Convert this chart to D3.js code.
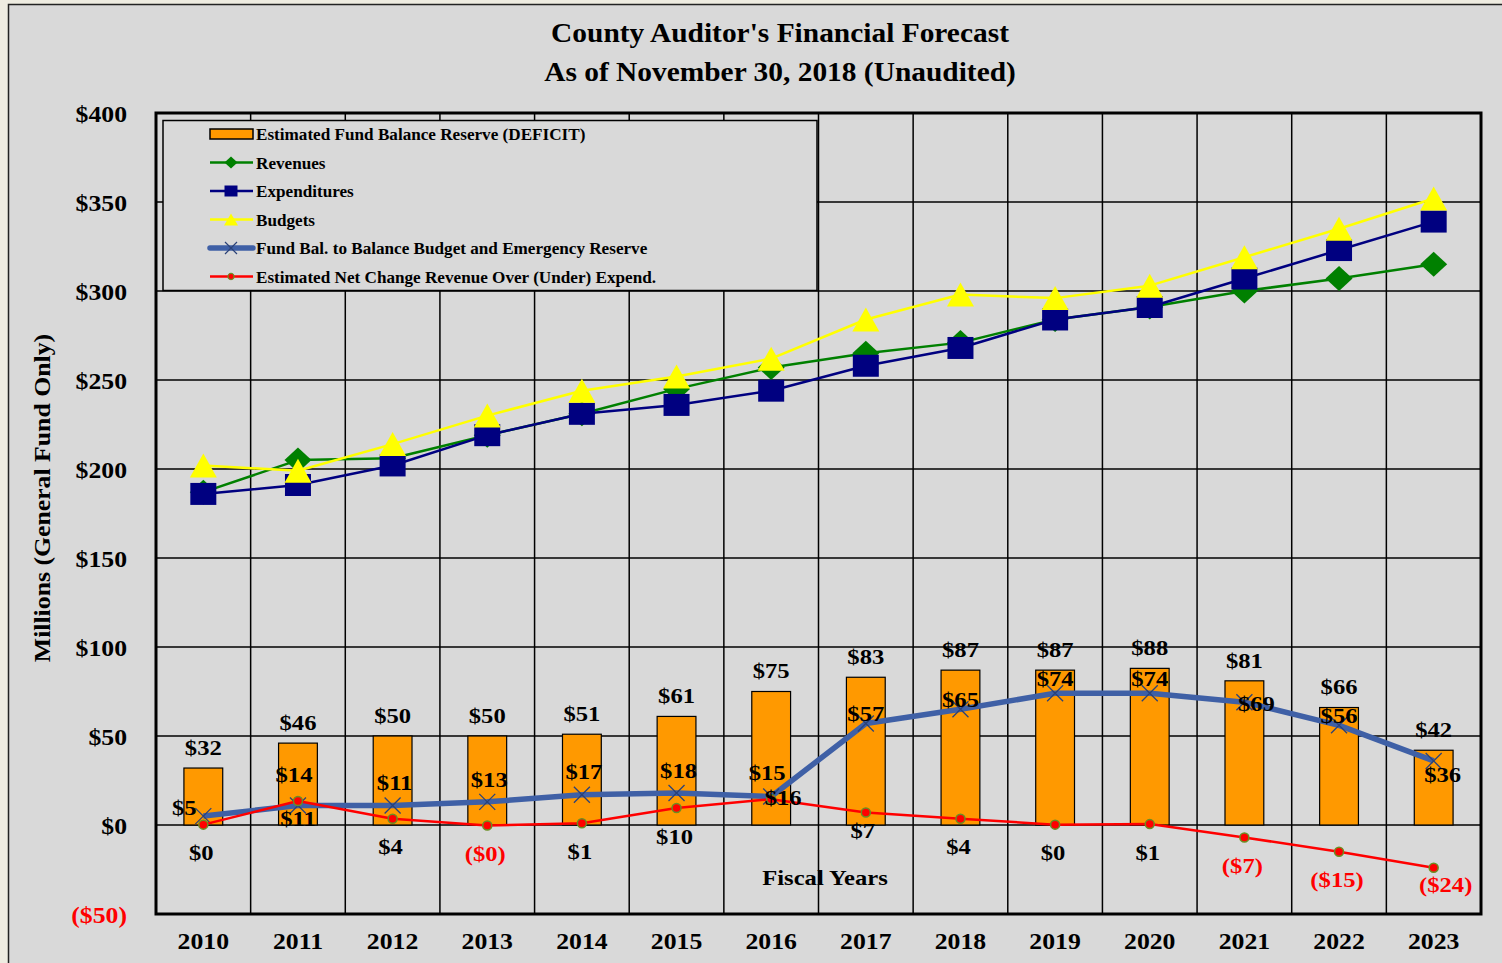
<!DOCTYPE html>
<html>
<head>
<meta charset="utf-8">
<script src="https://cdn.jsdelivr.net/npm/d3@7/dist/d3.min.js"></script>
<style>
  html, body { margin: 0; padding: 0; background: #eeece1; overflow: hidden; }
  svg { display: block; }
  text { font-family: "Liberation Serif", "Times New Roman", serif; font-weight: bold; }
</style>
</head>
<body>
<svg id="chart" width="1502" height="963"></svg>
<script>
// ---------------- DATA ----------------
const years = ["2010","2011","2012","2013","2014","2015","2016","2017","2018","2019","2020","2021","2022","2023"];
const fundBalanceReserve = [32, 46, 50, 50, 51, 61, 75, 83, 87, 87, 88, 81, 66, 42];
const revenues     = [187, 205, 206, 219, 231, 245, 257, 265, 271, 284, 291, 300, 307, 315];
const expenditures = [186, 191, 202, 219, 231, 236, 244, 258, 268, 284, 291, 307, 323, 339];
const budgets      = [202, 199, 214, 230, 244, 252, 262, 284, 298, 296, 303, 319, 335, 352];
const fundBalToBudget = [5, 11, 11, 13, 17, 18, 16, 57, 65, 74, 74, 69, 56, 36];
const netChange    = [0.2, 13.5, 3.5, -0.3, 1, 9.5, 14.5, 7, 3.5, 0.2, 0.5, -7, -15, -24];
const yTicks = [-50, 0, 50, 100, 150, 200, 250, 300, 350, 400];
// label placement categories (resolved to offsets in code)
const fundLabelPlace = ["left","below","above","above","above","above","right","near","near","mid","mid","right","near","belowright"];
const netLabelPlace  = ["below","above","below","below","below","below","above","belowNear","below","below","below","below","below","belowright"];
const legendNames = ["Estimated Fund Balance Reserve (DEFICIT)","Revenues","Expenditures","Budgets",
  "Fund Bal. to Balance Budget and Emergency Reserve","Estimated Net Change Revenue Over (Under) Expend."];

// ---------------- SETUP ----------------
const SX = 1.12;
const svg = d3.select("#chart");
const M = {left: 156, right: 1481, top: 113, bottom: 914};
const x = d3.scaleBand().domain(years).range([M.left, M.right]).padding(0);
const y = d3.scaleLinear().domain([-50, 400]).range([M.bottom, M.top]);
const cx = d => x(d) + x.bandwidth() / 2;

function txt(parent, px, py, s, size, opt = {}) {
  const t = parent.append("text")
    .attr("transform", `translate(${px},${py}) rotate(${opt.rotate || 0}) scale(${opt.sx || SX},1)`)
    .attr("text-anchor", opt.anchor || "middle")
    .attr("dy", "0.35em")
    .style("font-size", size + "px")
    .attr("fill", opt.fill || "#000")
    .text(s);
  return t;
}

// outer frame
svg.append("rect").attr("x", 8.5).attr("y", 4.5).attr("width", 1600).attr("height", 1000)
  .attr("fill", "#d9d9d9").attr("stroke", "#222").attr("stroke-width", 1.5);

// title
txt(svg, 780, 32, "County Auditor's Financial Forecast", 27.5, {sx: 1.07});
txt(svg, 780, 71, "As of November 30, 2018 (Unaudited)", 27.5, {sx: 1.07});

// y axis title
txt(svg, 42, 498, "Millions (General Fund Only)", 23, {rotate: -90});

// gridlines
const grid = svg.append("g");
grid.selectAll("line.h").data(yTicks).join("line")
  .attr("x1", M.left).attr("x2", M.right).attr("y1", d => y(d)).attr("y2", d => y(d))
  .attr("stroke", "#000").attr("stroke-width", 1.5);
grid.selectAll("line.v").data(years.slice(1)).join("line")
  .attr("x1", d => x(d)).attr("x2", d => x(d)).attr("y1", M.top).attr("y2", M.bottom)
  .attr("stroke", "#000").attr("stroke-width", 1.5);

// y axis
const yAxis = svg.append("g").attr("transform", `translate(${M.left},0)`)
  .call(d3.axisLeft(y).tickValues(yTicks).tickSize(0).tickPadding(0)
    .tickFormat(d => d < 0 ? `($${Math.abs(d)})` : `$${d}`));
yAxis.select(".domain").remove();
yAxis.selectAll("text")
  .attr("x", null).attr("dy", "0.35em")
  .attr("transform", `translate(-29,0) scale(${SX},1)`)
  .attr("text-anchor", "end")
  .style("font-size", "23px")
  .style("font-family", '"Liberation Serif", serif').style("font-weight", "bold")
  .attr("fill", d => d < 0 ? "#ff0000" : "#000");

// x axis
const xAxis = svg.append("g").attr("transform", `translate(0,${M.bottom})`)
  .call(d3.axisBottom(x).tickSize(0).tickPadding(0));
xAxis.select(".domain").remove();
xAxis.selectAll("text")
  .attr("y", null).attr("dy", "0.35em")
  .attr("transform", `translate(0,27) scale(${SX},1)`)
  .style("font-size", "23px")
  .style("font-family", '"Liberation Serif", serif').style("font-weight", "bold")
  .attr("fill", "#000");

// bars
const barW = x.bandwidth() * 0.41;
svg.append("g").selectAll("rect").data(years).join("rect")
  .attr("x", (d) => cx(d) - barW / 2)
  .attr("y", (d, i) => y(fundBalanceReserve[i]))
  .attr("width", barW)
  .attr("height", (d, i) => y(0) - y(fundBalanceReserve[i]))
  .attr("fill", "#ff9900").attr("stroke", "#000").attr("stroke-width", 1.2);

// marker shapes
const diamond = (w, h) => `M0,${-h/2}L${w/2},0L0,${h/2}L${-w/2},0Z`;
const square = (w, h) => `M${-w/2},${-h/2}h${w}v${h}h${-w}Z`;
const triangle = (w, h) => `M0,${-h/2}L${w/2},${h/2}L${-w/2},${h/2}Z`;
const cross = (s) => `M${-s},${-s}L${s},${s}M${-s},${s}L${s},${-s}`;

function series(vals, color, width, markerPath, mFill, mStroke, mStrokeW) {
  const g = svg.append("g");
  const line = d3.line().x((d, i) => cx(years[i])).y(d => y(d));
  g.append("path").datum(vals).attr("d", line).attr("fill", "none")
    .attr("stroke", color).attr("stroke-width", width).attr("stroke-linejoin", "round");
  g.selectAll("path.m").data(vals).join("path").attr("class", "m")
    .attr("transform", (d, i) => `translate(${cx(years[i])},${y(d)})`)
    .attr("d", markerPath)
    .attr("fill", mFill).attr("stroke", mStroke).attr("stroke-width", mStrokeW);
}

series(revenues, "#008000", 2.5, diamond(27, 25), "#008000", "none", 0);
series(expenditures, "#000080", 2.5, square(26, 22), "#000080", "none", 0);
series(budgets, "#ffff00", 2.5, triangle(27, 24), "#ffff00", "none", 0);
series(fundBalToBudget, "#3f60a6", 5.5, cross(8), "none", "#2b4278", 1.3);
series(netChange, "#ff0000", 2.5, d3.symbol(d3.symbolCircle, 64)(), "#ff0000", "#6b8e23", 1.5);

// legend
const lg = svg.append("g");
lg.append("rect").attr("x", 163).attr("y", 120.5).attr("width", 654).attr("height", 170)
  .attr("fill", "#d9d9d9").attr("stroke", "#000").attr("stroke-width", 1.5);
const rowY = i => 134 + i * 28.5;
const lx1 = 210, lx2 = 253, lmx = 231;
legendNames.forEach((name, i) => {
  const ry = rowY(i);
  if (i === 0) {
    lg.append("rect").attr("x", lx1).attr("y", ry - 5).attr("width", lx2 - lx1).attr("height", 10)
      .attr("fill", "#ff9900").attr("stroke", "#000").attr("stroke-width", 1.5);
  } else {
    const spec = [null,
      ["#008000", 2.5, diamond(13, 12), "#008000", "none", 0],
      ["#000080", 2.5, square(13, 11), "#000080", "none", 0],
      ["#ffff00", 2.5, triangle(14, 12), "#ffff00", "none", 0],
      ["#3f60a6", 5.5, cross(6), "none", "#2b4278", 1.2],
      ["#ff0000", 2.5, d3.symbol(d3.symbolCircle, 30)(), "#ff0000", "#6b8e23", 1.2]][i];
    lg.append("line").attr("x1", lx1).attr("x2", lx2).attr("y1", ry).attr("y2", ry)
      .attr("stroke", spec[0]).attr("stroke-width", spec[1]).attr("stroke-linecap", i === 4 ? "round" : "butt");
    lg.append("path").attr("transform", `translate(${lmx},${ry})`).attr("d", spec[2])
      .attr("fill", spec[3]).attr("stroke", spec[4]).attr("stroke-width", spec[5]);
  }
  txt(lg, 256, ry, name, 17.5, {anchor: "start", sx: 0.98});
});

// data labels
const fmt = v => v < 0 ? `($${Math.abs(Math.round(v))})` : `$${Math.round(v)}`;
const labels = svg.append("g");
years.forEach((yr, i) => {
  txt(labels, cx(yr), y(fundBalanceReserve[i]) - 21, fmt(fundBalanceReserve[i]), 22);
});
const fundOff = {left: [-19, -9], below: [0, 13], above: [2, -23], right: [12, 1], near: [0, -10], mid: [0, -15], belowright: [9, 13]};
years.forEach((yr, i) => {
  const o = fundOff[fundLabelPlace[i]];
  txt(labels, cx(yr) + o[0], y(fundBalToBudget[i]) + o[1], fmt(fundBalToBudget[i]), 22);
});
const netOff = {below: [-2, 28], above: [-4, -27], belowNear: [-3, 18], belowright: [12, 17]};
years.forEach((yr, i) => {
  const o = netOff[netLabelPlace[i]];
  txt(labels, cx(yr) + o[0], y(netChange[i]) + o[1], fmt(netChange[i]), 22,
    {fill: netChange[i] < 0 ? "#ff0000" : "#000"});
});

// x axis title (inside plot)
txt(svg, 825, 877, "Fiscal Years", 22);

// plot border
svg.append("rect").attr("x", M.left).attr("y", M.top).attr("width", M.right - M.left).attr("height", M.bottom - M.top)
  .attr("fill", "none").attr("stroke", "#000").attr("stroke-width", 3);
</script>
</body>
</html>
